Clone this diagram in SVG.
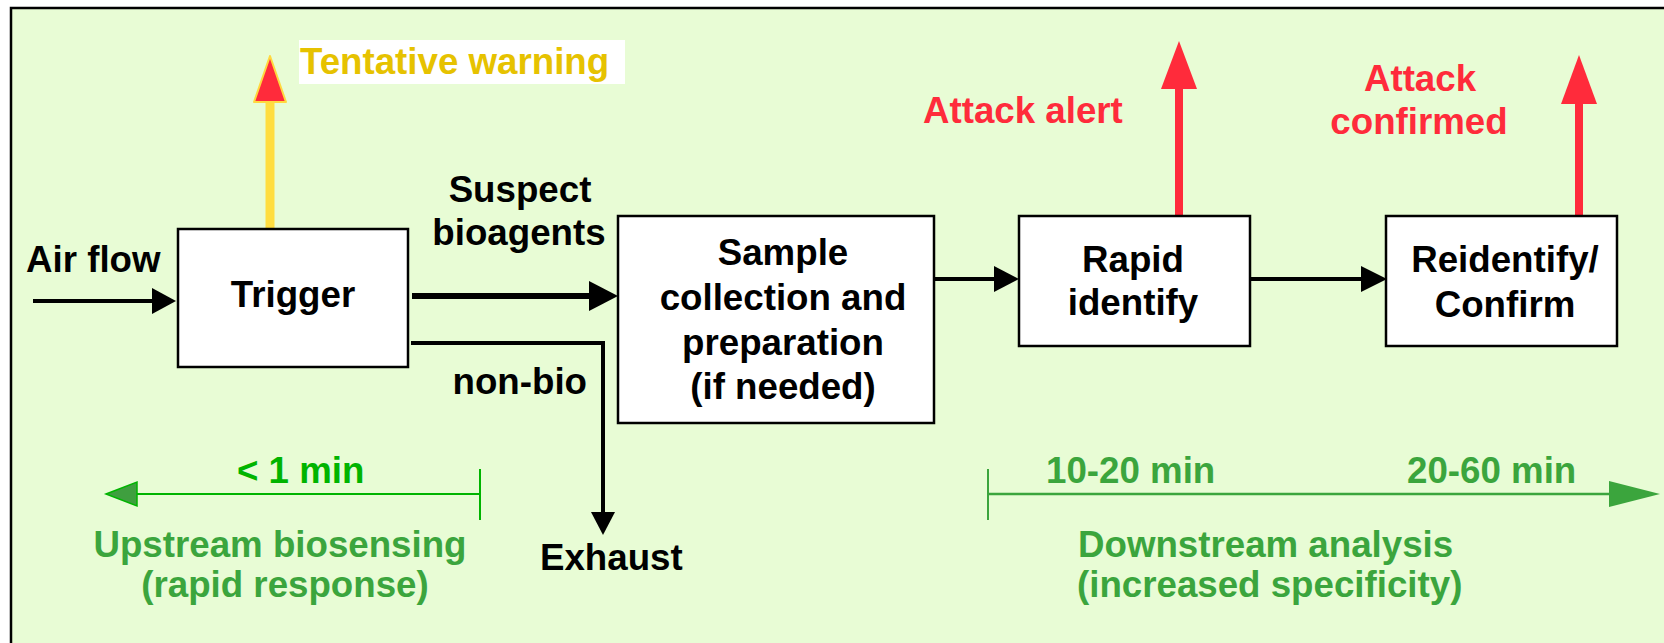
<svg xmlns="http://www.w3.org/2000/svg" width="1664" height="643" viewBox="0 0 1664 643">
<defs>
<style>
text{font-family:"Liberation Sans",Arial,Helvetica,sans-serif;font-weight:bold;font-size:36.7px;}
.blk{fill:#000;}
.mid{text-anchor:middle;}
.box{fill:#fff;stroke:#000;stroke-width:2.5;}
.ln{stroke:#000;stroke-width:4;fill:none;}
.red{fill:#FF2B3B;}
.g1{fill:#3BA53D;}
.g2{fill:#00B400;}
</style>
</defs>
<rect x="0" y="0" width="1664" height="643" fill="#fff"/>
<rect x="11" y="8" width="1660" height="645" fill="#E8FCD5" stroke="#000" stroke-width="2.5"/>

<g id="connectors">
  <!-- air flow -->
  <line class="ln" x1="33" y1="301" x2="154" y2="301"/>
  <polygon points="176,301 152,288 152,314" fill="#000"/>
  <!-- suspect bioagents -->
  <line x1="412" y1="296" x2="592" y2="296" stroke="#000" stroke-width="6"/>
  <polygon points="618,296 589,281 589,311" fill="#000"/>
  <!-- non-bio to exhaust -->
  <polyline class="ln" points="411,343 603,343 603,514"/>
  <polygon points="603,535 591,512 615,512" fill="#000"/>
  <!-- sample to rapid -->
  <line class="ln" x1="932" y1="279" x2="996" y2="279"/>
  <polygon points="1019,279 994,266 994,292" fill="#000"/>
  <!-- rapid to reidentify -->
  <line class="ln" x1="1250" y1="279" x2="1363" y2="279"/>
  <polygon points="1387,279 1361,266 1361,292" fill="#000"/>
  <!-- tentative warning arrow -->
  <line x1="270" y1="229" x2="270" y2="100" stroke="#FFDD40" stroke-width="9"/>
  <polygon points="270,56 254,102 286,102" fill="#FF2B3B" stroke="#FFD93F" stroke-width="2" stroke-linejoin="round"/>
  <!-- attack alert arrow -->
  <line x1="1179" y1="218" x2="1179" y2="87" stroke="#FF2B3B" stroke-width="8" stroke-linecap="round"/>
  <polygon points="1179,41 1161,89 1197,89" fill="#FF2B3B"/>
  <!-- attack confirmed arrow -->
  <line x1="1579" y1="216" x2="1579" y2="102" stroke="#FF2B3B" stroke-width="8"/>
  <polygon points="1579,55 1561,104 1597,104" fill="#FF2B3B"/>
  <!-- upstream timeline -->
  <line x1="134" y1="494" x2="480" y2="494" stroke="#00B400" stroke-width="2"/>
  <line x1="480" y1="469" x2="480" y2="520" stroke="#00B400" stroke-width="2"/>
  <polygon points="106,494 137,482 137,506" fill="#3F9F3F" stroke="#00B400" stroke-width="1.5"/>
  <!-- downstream timeline -->
  <line x1="988" y1="494" x2="1612" y2="494" stroke="#3BA53D" stroke-width="2.5"/>
  <line x1="988" y1="469" x2="988" y2="520" stroke="#3BA53D" stroke-width="2"/>
  <polygon points="1660,494 1609,481 1609,507" fill="#3BA53D"/>
</g>

<g id="node-trigger">
  <rect class="box" x="178" y="229" width="230" height="138"/>
  <text class="blk mid" x="293" y="307">Trigger</text>
</g>
<g id="node-sample">
  <rect class="box" x="618" y="216" width="316" height="207"/>
  <text class="blk mid" x="783" y="265">Sample</text>
  <text class="blk mid" x="783" y="310">collection and</text>
  <text class="blk mid" x="783" y="355">preparation</text>
  <text class="blk mid" x="783" y="399">(if needed)</text>
</g>
<g id="node-rapid">
  <rect class="box" x="1019" y="216" width="231" height="130"/>
  <text class="blk mid" x="1133" y="272">Rapid</text>
  <text class="blk mid" x="1133" y="315">identify</text>
</g>
<g id="node-reidentify">
  <rect class="box" x="1386" y="216" width="231" height="130"/>
  <text class="blk mid" x="1505" y="272">Reidentify/</text>
  <text class="blk mid" x="1505" y="317">Confirm</text>
</g>

<g id="labels">
  <text class="blk" x="26" y="272">Air flow</text>
  <text class="blk mid" x="520" y="202">Suspect</text>
  <text class="blk mid" x="519" y="245">bioagents</text>
  <text class="blk" x="587" y="394" text-anchor="end">non-bio</text>
  <text class="blk" x="540" y="570">Exhaust</text>
  <rect x="299" y="40" width="326" height="44" fill="#fff"/>
  <text x="300" y="74" fill="#E6C200">Tentative warning</text>
  <text class="red" x="923" y="123">Attack alert</text>
  <text class="red mid" x="1420" y="91">Attack</text>
  <text class="red mid" x="1419" y="134">confirmed</text>
  <text class="g2" x="237" y="483">&lt; 1 min</text>
  <text class="g1 mid" x="280" y="557">Upstream biosensing</text>
  <text class="g1 mid" x="285" y="597">(rapid response)</text>
  <text class="g1" x="1046" y="483">10-20 min</text>
  <text class="g1" x="1407" y="483">20-60 min</text>
  <text class="g1" x="1078" y="557">Downstream analysis</text>
  <text class="g1" x="1077" y="597">(increased specificity)</text>
</g>
</svg>
